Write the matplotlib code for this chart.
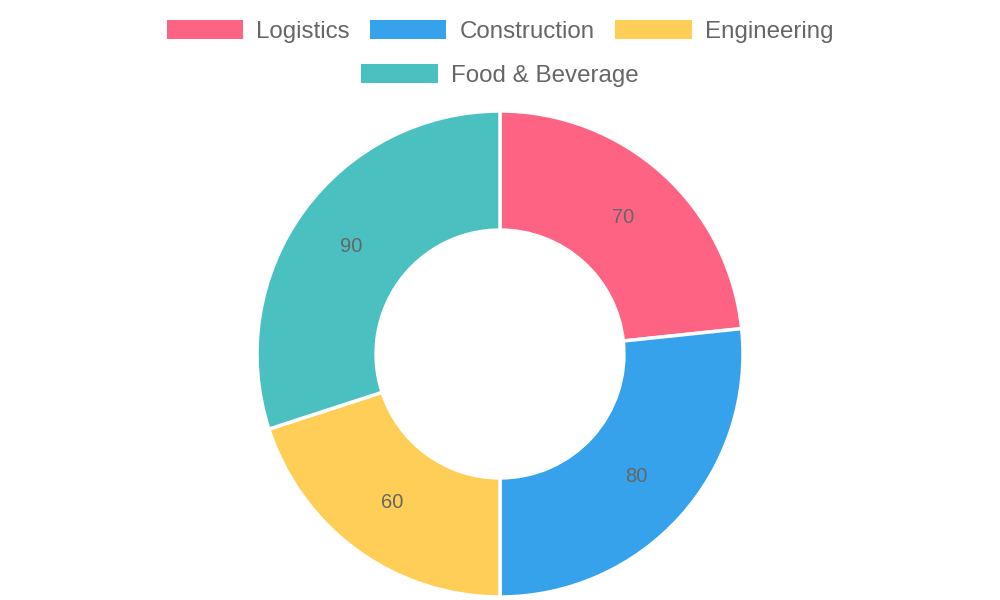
import matplotlib
matplotlib.use("Agg")
import matplotlib.pyplot as plt
from matplotlib.patches import Patch

categories = ["Logistics", "Construction", "Engineering", "Food & Beverage"]
values = [70, 80, 60, 90]
colors = ["#FF6384", "#36A2EB", "#FFCE56", "#4BC0C0"]

plt.rcParams['font.family'] = ['Liberation Sans', 'DejaVu Sans']
fig = plt.figure(figsize=(10, 6), dpi=100)
ax = fig.add_axes([0.257, 0.005, 0.486, 0.81])
wedges, texts = ax.pie(values, colors=colors, startangle=90, counterclock=False,
                       radius=1.0, labels=[str(v) for v in values], labeldistance=0.755,
                       wedgeprops=dict(width=0.49, edgecolor='white', linewidth=2.5),
                       textprops=dict(color='#666666', fontsize=14.5, ha='center', va='center'))
ax.set_xlim(-1, 1); ax.set_ylim(-1, 1)
ax.set_aspect('equal')
ax.axis('off')

handles = [Patch(facecolor=c, edgecolor='none') for c in colors]
common = dict(frameon=False, fontsize=17.4, handlelength=3.15, handleheight=0.83,
              handletextpad=0.55, columnspacing=0.85, labelcolor='#666666')
fig.legend(handles[:3], categories[:3], loc='center', bbox_to_anchor=(0.5, 0.947), ncol=3, **common)
fig.legend(handles[3:], categories[3:], loc='center', bbox_to_anchor=(0.5, 0.874), ncol=1, **common)
fig.savefig("out.png", dpi=100)
